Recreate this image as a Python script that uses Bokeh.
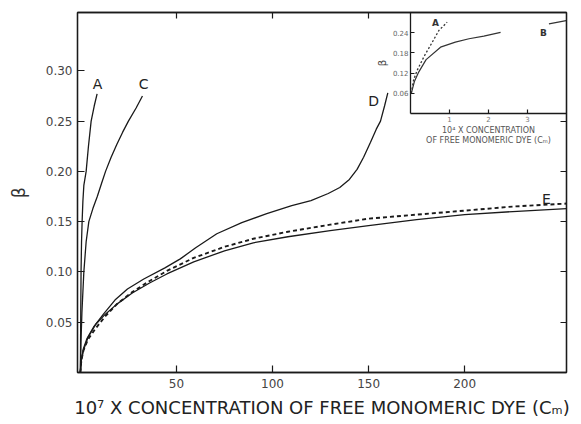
from bokeh.plotting import figure
from bokeh.models import Range1d, LinearAxis, FixedTicker, PrintfTickFormatter
from bokeh.core.properties import value
from bokeh.embed import file_html
from bokeh.resources import INLINE

nan = float("nan")

# ---- main chart data: 10^7 x C_M vs beta ----
a_x = [0, 0.1, 0.2, 0.35, 0.6, 0.9, 1.3, 1.8, 3.0, 4.2, 5.6, 7.2, 8.7]
a_y = [0, 0.03, 0.06, 0.10, 0.13, 0.15, 0.17, 0.186, 0.20, 0.225, 0.25, 0.265, 0.277]

c_x = [0, 0.3, 0.8, 1.8, 3.0, 4.4, 6.5, 8.8, 11, 13.1, 16, 19, 22, 25, 29, 32.3]
c_y = [0, 0.03, 0.06, 0.10, 0.13, 0.15, 0.163, 0.175, 0.188, 0.20, 0.214, 0.227,
       0.239, 0.25, 0.263, 0.275]

d_x = [0, 0.5, 1.6, 3.5, 6.8, 12, 18, 24.5, 33, 44, 52, 60, 71, 84, 97, 110,
       120, 129, 135, 140, 144, 147.4, 151, 154, 156.2, 158.3, 160]
d_y = [0, 0.012, 0.024, 0.034, 0.045, 0.058, 0.072, 0.083, 0.093, 0.104, 0.113,
       0.124, 0.138, 0.149, 0.158, 0.166, 0.171, 0.178, 0.184, 0.192, 0.202,
       0.214, 0.229, 0.242, 0.25, 0.265, 0.278]

e_x = [0, 0.5, 1.6, 4, 8, 13, 19, 27, 36, 45, 59, 75, 90, 108, 130, 150, 175,
       200, 225, 253]
e_y = [0, 0.012, 0.022, 0.035, 0.048, 0.058, 0.068, 0.079, 0.089, 0.098, 0.110,
       0.121, 0.129, 0.135, 0.141, 0.146, 0.152, 0.157, 0.160, 0.163]

ed_x = [0, 0.5, 1.6, 4, 8, 13, 19, 27, 36, 45, 59, 75, 90, 108, 130, 150, 175,
        200, 225, 253]
ed_y = [0, 0.012, 0.022, 0.033, 0.044, 0.056, 0.068, 0.080, 0.091, 0.101, 0.114,
        0.125, 0.133, 0.140, 0.147, 0.153, 0.157, 0.161, 0.165, 0.168]

curve_labels = ["A", "C", "D", "E"]
label_x = [8.9, 32.9, 152.6, 242.6]
label_y = [0.287, 0.287, 0.270, 0.173]

y_ticks = [0.05, 0.10, 0.15, 0.20, 0.25, 0.30]
x_ticks = [50, 100, 150, 200]
right_ticks = [0.05, 0.10, 0.15, 0.20, 0.25]
top_ticks = [50, 100, 150]

# ---- inset data: 10^4 x C_M vs beta ----
ia_x = [0.02, 0.08, 0.17, 0.35, 0.55, 0.73, 0.94]
ia_y = [0.06, 0.10, 0.128, 0.17, 0.21, 0.247, 0.271]
ib_x = [0.02, 0.1, 0.21, 0.4, 0.77, 1.15, 1.5, 1.88, 2.31, nan, 3.55, 3.99]
ib_y = [0.06, 0.095, 0.123, 0.16, 0.197, 0.212, 0.222, 0.23, 0.241, nan, 0.266, 0.276]
inset_labels = ["A", "B"]
inset_label_x = [0.64, 3.41]
inset_label_y = [0.27, 0.24]
inset_x_ticks = [1, 2, 3]
inset_y_ticks = [0.06, 0.12, 0.18, 0.24]

FONT = "DejaVu Sans"
INK = "#1a1a1a"

W, H = 581, 424
ML, MR, MT, MB = 77, 15, 12, 52
p = figure(width=W, height=H, output_backend="svg", toolbar_location=None,
           x_range=Range1d(-1.5, 253), y_range=Range1d(0, 0.358),
           min_border_left=ML, min_border_right=MR, min_border_top=MT,
           min_border_bottom=MB)
p.grid.visible = False
p.outline_line_color = INK
p.outline_line_width = 1.3
p.background_fill_color = "white"
p.border_fill_color = "white"

# inset placement (frame pixel positions of the inset box)
frame_w = W - ML - MR
frame_h = H - MT - MB
inset_left_px = 410 - ML
ix_end, iy_end = 4.0, 0.30
fx = inset_left_px / frame_w
fy = (frame_h - (113 - MT)) / frame_h
p.extra_x_ranges = {"ix": Range1d(-fx * ix_end / (1 - fx), ix_end)}
p.extra_y_ranges = {"iy": Range1d(-fy * iy_end / (1 - fy), iy_end)}

def style_axis(ax, ticks, size="12px"):
    ax.ticker = FixedTicker(ticks=ticks)
    ax.major_tick_in = 7
    ax.major_tick_out = 0
    ax.minor_tick_in = 0
    ax.minor_tick_out = 0
    ax.axis_line_color = INK
    ax.axis_line_width = 1.3
    ax.major_tick_line_color = INK
    ax.major_tick_line_width = 1.2
    ax.major_label_text_font = FONT
    ax.major_label_text_font_size = size
    ax.major_label_text_color = "#444444"

xa = p.xaxis[0]
style_axis(xa, x_ticks)
xa.major_label_standoff = 6
xa.axis_label = "10\u2077 X CONCENTRATION OF FREE MONOMERIC DYE (C\u2098)"
xa.axis_label_text_font = FONT
xa.axis_label_text_font_size = "18px"
xa.axis_label_text_font_style = "normal"
xa.axis_label_text_color = "#222222"
xa.axis_label_standoff = 6

ya = p.yaxis[0]
style_axis(ya, y_ticks)
ya.formatter = PrintfTickFormatter(format="%.2f")
ya.major_label_standoff = 5
ya.axis_label = "\u03b2"
ya.axis_label_text_font = FONT
ya.axis_label_text_font_size = "17px"
ya.axis_label_text_font_style = "normal"
ya.axis_label_text_color = "#333333"
ya.axis_label_standoff = 14

top = LinearAxis()
style_axis(top, top_ticks)
top.major_tick_in = 6
top.major_label_overrides = {t: "" for t in top_ticks}
p.add_layout(top, "above")

right = LinearAxis()
style_axis(right, right_ticks)
right.major_tick_in = 6
right.major_label_overrides = {t: "" for t in right_ticks}
p.add_layout(right, "right")

# main curves
for xs, ys in [(a_x, a_y), (c_x, c_y), (d_x, d_y), (e_x, e_y)]:
    p.line(xs, ys, line_color=INK, line_width=1.3)
p.line(ed_x, ed_y, line_color=INK, line_width=1.9, line_dash="4 3")

p.text(x=label_x, y=label_y, text=curve_labels, text_font=value(FONT),
       text_font_size="14px", text_align="center", text_baseline="middle",
       text_color="#222222")

# inset axes
iya = LinearAxis(x_range_name="ix", y_range_name="iy", fixed_location=0,
                 bounds=(0, iy_end))
style_axis(iya, inset_y_ticks, size="7px")
iya.formatter = PrintfTickFormatter(format="%.2f")
iya.major_tick_in = 4
iya.major_label_standoff = 2
iya.major_label_text_color = "#666666"
iya.axis_label = "\u03b2"
iya.axis_label_text_font = FONT
iya.axis_label_text_font_size = "10px"
iya.axis_label_text_font_style = "normal"
iya.axis_label_text_color = "#444444"
iya.axis_label_standoff = 2
p.add_layout(iya, "left")

ixa = LinearAxis(x_range_name="ix", y_range_name="iy", fixed_location=0,
                 bounds=(0, ix_end))
style_axis(ixa, inset_x_ticks, size="7px")
ixa.major_tick_in = 4
ixa.major_label_standoff = 2
ixa.major_label_text_color = "#777777"
ixa.axis_label = "10\u2074 X CONCENTRATION\nOF FREE MONOMERIC DYE (C\u2098)"
ixa.axis_label_text_font = FONT
ixa.axis_label_text_font_size = "8px"
ixa.axis_label_text_font_style = "normal"
ixa.axis_label_text_color = "#555555"
ixa.axis_label_standoff = 1
p.add_layout(ixa, "below")

p.line(ia_x, ia_y, x_range_name="ix", y_range_name="iy", line_color="#333333",
       line_width=1.3, line_dash="2 2")
p.line(ib_x, ib_y, x_range_name="ix", y_range_name="iy", line_color="#333333",
       line_width=1.2)
p.text(x=inset_label_x, y=inset_label_y, text=inset_labels,
       x_range_name="ix", y_range_name="iy", text_font=value(FONT),
       text_font_size="9px", text_font_style="bold", text_align="center",
       text_baseline="middle", text_color="#333333")

open("out.html", "w").write(file_html(p, INLINE))
